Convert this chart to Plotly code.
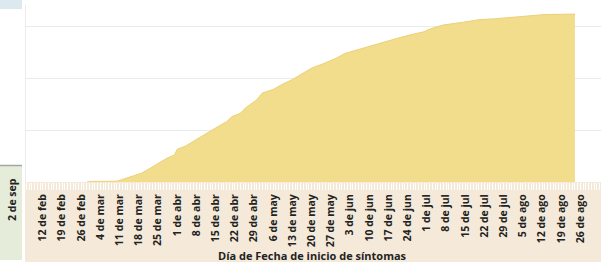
import plotly.graph_objects as go
import datetime as dt

dates = ["2020-02-28","2020-03-01","2020-03-10","2020-03-12","2020-03-15","2020-03-19","2020-03-22",
         "2020-03-26","2020-03-28","2020-03-31","2020-04-01","2020-04-04","2020-04-07","2020-04-11",
         "2020-04-15","2020-04-19","2020-04-21","2020-04-24","2020-04-26","2020-04-30","2020-05-02",
         "2020-05-06","2020-05-09","2020-05-13","2020-05-17","2020-05-20","2020-05-24","2020-05-29",
         "2020-06-01","2020-06-06","2020-06-11","2020-06-16","2020-06-20","2020-06-25","2020-06-30",
         "2020-07-02","2020-07-07","2020-07-14","2020-07-20","2020-07-26","2020-08-01","2020-08-07",
         "2020-08-13","2020-08-19","2020-08-24"]
values = [0, 12, 15, 50, 90, 170, 260, 390, 450, 520, 630, 690, 790, 920, 1040, 1160, 1260, 1320,
          1430, 1580, 1710, 1780, 1870, 1970, 2090, 2190, 2270, 2380, 2470, 2550, 2630, 2700, 2760,
          2830, 2890, 2940, 3020, 3070, 3120, 3140, 3170, 3190, 3220, 3225, 3230]

tick_dates = ["2020-02-12","2020-02-19","2020-02-26","2020-03-04","2020-03-11","2020-03-18","2020-03-25",
              "2020-04-01","2020-04-08","2020-04-15","2020-04-22","2020-04-29","2020-05-06","2020-05-13",
              "2020-05-20","2020-05-27","2020-06-03","2020-06-10","2020-06-17","2020-06-24","2020-07-01",
              "2020-07-08","2020-07-15","2020-07-22","2020-07-29","2020-08-05","2020-08-12","2020-08-19",
              "2020-08-26"]
tick_labels = ["12 de feb","19 de feb","26 de feb","4 de mar","11 de mar","18 de mar","25 de mar",
               "1 de abr","8 de abr","15 de abr","22 de abr","29 de abr","6 de may","13 de may",
               "20 de may","27 de may","3 de jun","10 de jun","17 de jun","24 de jun","1 de jul",
               "8 de jul","15 de jul","22 de jul","29 de jul","5 de ago","12 de ago","19 de ago",
               "26 de ago"]
x_title = "Día de Fecha de inicio de síntomas"
side_label = "2 de sep"

W, H = 601, 262
L, R, T, B = 25, 0, 5, 80
pw, ph = W - L - R, H - T - B
FONT = "Open Sans"

def px(x):
    return (x - L) / pw

def py(y):
    return (H - B - y) / ph

fig = go.Figure()
fig.add_trace(go.Scatter(
    x=dates, y=values, mode="lines", fill="tozeroy",
    line=dict(color="#ecd176", width=1),
    fillcolor="#f2dd8d", hoverinfo="skip", showlegend=False))

shapes = [
    dict(type="rect", xref="paper", yref="paper", x0=px(25), x1=px(601), y0=py(182), y1=py(262),
         fillcolor="#f5ead9", line_width=0, layer="below"),
    dict(type="rect", xref="paper", yref="paper", x0=px(0), x1=px(22), y0=py(166), y1=py(260),
         fillcolor="#e6ecda", line_width=0, layer="below"),
    dict(type="line", xref="paper", yref="paper", x0=px(0), x1=px(22), y0=py(165.5), y1=py(165.5),
         line=dict(color="#a6a6a6", width=1.5)),
    dict(type="rect", xref="paper", yref="paper", x0=px(0), x1=px(22), y0=py(0), y1=py(9),
         fillcolor="#dceaf0", line_width=0, layer="below"),
    dict(type="line", xref="paper", yref="paper", x0=px(25.5), x1=px(25.5), y0=py(182), y1=py(5),
         line=dict(color="#ececec", width=1)),
]

fig.update_layout(
    width=W, height=H,
    margin=dict(l=L, r=R, t=T, b=B, pad=0, autoexpand=False),
    paper_bgcolor="white", plot_bgcolor="white",
    shapes=shapes,
    annotations=[
        dict(text=x_title, xref="paper", yref="paper", x=px(312), y=py(255),
             xanchor="center", yanchor="middle", showarrow=False,
             font=dict(family=FONT, size=11, color="#222", weight="bold")),
        dict(text=side_label, xref="paper", yref="paper", x=px(12), y=py(200),
             xanchor="center", yanchor="middle", showarrow=False,
             textangle=-90, font=dict(family=FONT, size=10.5, color="#222", weight="bold")),
    ],
    xaxis=dict(
        type="date", automargin=False,
        range=[dt.datetime(2020, 2, 5, 12), dt.datetime(2020, 9, 2, 12)],
        tickvals=tick_dates, ticktext=tick_labels, tickangle=-90,
        tickfont=dict(family=FONT, size=10.5, color="#222", weight="bold"),
        ticks="outside", ticklen=7, tickcolor="white", tickwidth=1,
        minor=dict(dtick=86400000, tick0="2020-02-05", ticks="outside", ticklen=7,
                   tickcolor="white", tickwidth=1, showgrid=False),
        showgrid=False, zeroline=False, showline=False,
    ),
    yaxis=dict(
        automargin=False,
        range=[0, 177 / 52 * 1000], tickvals=[1000, 2000, 3000], showticklabels=False,
        showgrid=True, gridcolor="#ebebeb", gridwidth=1, zeroline=False, showline=False, ticks="",
    ),
)

fig.write_html("out.html", config={"displayModeBar": False},
               post_script="document.body.style.margin='0';document.body.style.overflow='hidden';")
